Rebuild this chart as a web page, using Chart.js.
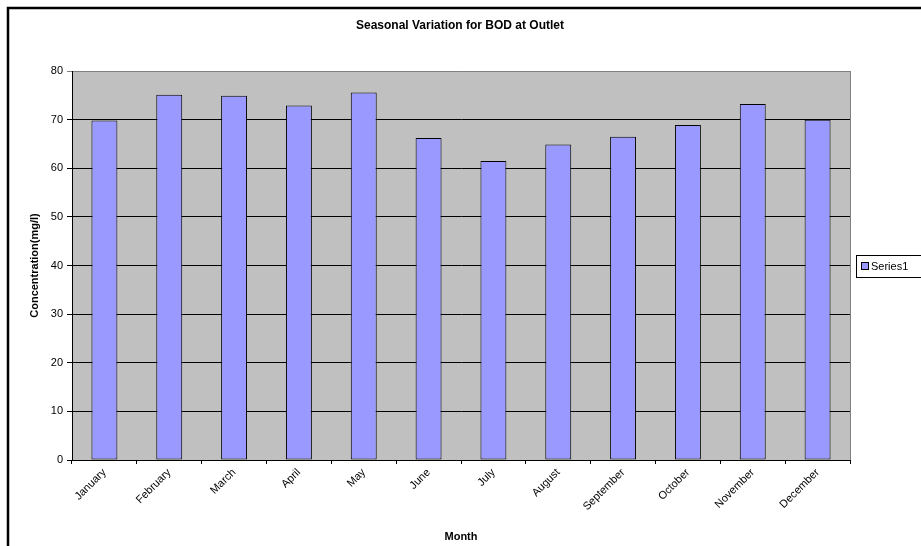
<!DOCTYPE html>
<html>
<head>
<meta charset="utf-8">
<script src="https://cdn.jsdelivr.net/npm/chart.js@4.4.1/dist/chart.umd.min.js"></script>
<style>
  html, body { margin: 0; padding: 0; background: #ffffff; }
  canvas { display: block; }
</style>
</head>
<body>
<canvas id="chart" width="921" height="546"></canvas>
<script>
// Monthly BOD readings at the outlet
const months = ['January', 'February', 'March', 'April', 'May', 'June',
                'July', 'August', 'September', 'October', 'November', 'December'];
const bodValues = [69.8, 75.1, 74.9, 72.9, 75.6, 66.2, 61.5, 64.9, 66.5, 68.9, 73.2, 70.0];
const seriesName = 'Series1';
const chartTitle = 'Seasonal Variation for BOD at Outlet';
const xAxisTitle = 'Month';
const yAxisTitle = 'Concentration(mg/l)';
const yMin = 0, yMax = 80, yStep = 10;

const FONT = '"Liberation Sans", Arial, sans-serif';
const BAR_FILL = '#9999FF';
const PLOT_FILL = '#C0C0C0';

// Frame, plot background, title and legend box
const decorations = {
  id: 'decorations',
  beforeDraw(chart) {
    const { ctx, chartArea: a, width, height } = chart;
    ctx.save();
    ctx.fillStyle = '#ffffff';
    ctx.fillRect(0, 0, width, height);
    ctx.fillStyle = PLOT_FILL;
    ctx.fillRect(a.left, a.top, a.right - a.left, a.bottom - a.top);
    // outer frame
    ctx.strokeStyle = '#000000';
    ctx.lineWidth = 2.5;
    ctx.strokeRect(8, 8, width + 20, height + 20);
    ctx.restore();
  },
  afterDraw(chart) {
    const { ctx, chartArea: a } = chart;
    ctx.save();
    // right edge of plot area
    ctx.strokeStyle = '#808080';
    ctx.lineWidth = 1;
    ctx.beginPath();
    ctx.moveTo(a.right + 0.5, a.top);
    ctx.lineTo(a.right + 0.5, a.bottom);
    ctx.stroke();

    // title
    ctx.fillStyle = '#000000';
    ctx.font = 'bold 12px ' + FONT;
    ctx.textAlign = 'center';
    ctx.textBaseline = 'middle';
    ctx.fillText(chartTitle, 460, 26);

    // legend
    const ds = chart.data.datasets[0];
    ctx.fillStyle = '#ffffff';
    ctx.fillRect(856.5, 255.5, 70, 22);
    ctx.strokeStyle = '#000000';
    ctx.lineWidth = 1;
    ctx.strokeRect(856.5, 255.5, 70, 22);
    ctx.fillStyle = ds.backgroundColor;
    ctx.fillRect(861.5, 262.5, 7, 7);
    ctx.strokeRect(861.5, 262.5, 7, 7);
    ctx.fillStyle = '#000000';
    ctx.font = '11px ' + FONT;
    ctx.textAlign = 'left';
    ctx.fillText(ds.label, 871, 266.5);
    ctx.restore();
  }
};

new Chart(document.getElementById('chart'), {
  type: 'bar',
  data: {
    labels: months,
    datasets: [{
      label: seriesName,
      data: bodValues,
      backgroundColor: BAR_FILL,
      borderColor: '#000000',
      borderWidth: 1,
      borderSkipped: false,
      categoryPercentage: 1.0,
      barPercentage: 0.4
    }]
  },
  options: {
    responsive: false,
    animation: false,
    devicePixelRatio: 1,
    layout: { padding: { left: 0, right: 71, top: 71, bottom: 0 } },
    plugins: {
      legend: { display: false },
      title: { display: false },
      tooltip: { enabled: false }
    },
    scales: {
      x: {
        offset: true,
        grid: {
          offset: true,
          drawOnChartArea: false,
          drawTicks: true,
          tickLength: 4,
          color: '#000000'
        },
        border: { color: '#000000', width: 1 },
        ticks: {
          minRotation: 45,
          maxRotation: 45,
          autoSkip: false,
          padding: 2,
          color: '#000000',
          font: { family: FONT, size: 11 }
        },
        title: {
          display: true,
          text: xAxisTitle,
          color: '#000000',
          font: { family: FONT, size: 11, weight: 'bold' },
          padding: { top: 0, bottom: 2 }
        },
        afterFit(scale) { scale.height = 86; }
      },
      y: {
        min: yMin,
        max: yMax,
        grid: {
          color: (c) => (c.tick && c.tick.value === yMax ? '#808080' : '#000000'),
          lineWidth: 1,
          tickLength: 5,
          drawTicks: true
        },
        border: { color: '#000000', width: 1 },
        ticks: {
          stepSize: yStep,
          padding: 4,
          color: '#000000',
          font: { family: FONT, size: 11 }
        },
        title: {
          display: true,
          text: yAxisTitle,
          color: '#000000',
          font: { family: FONT, size: 11, weight: 'bold' },
          padding: { top: 28, bottom: 0 }
        },
        afterFit(scale) { scale.width = 72; }
      }
    }
  },
  plugins: [decorations]
});
</script>
</body>
</html>
